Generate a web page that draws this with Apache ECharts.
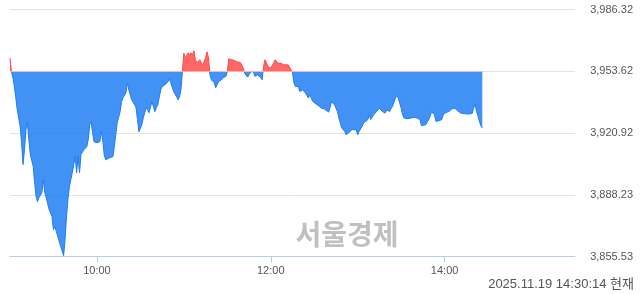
<!DOCTYPE html>
<html>
<head>
<meta charset="utf-8">
<script src="https://cdn.jsdelivr.net/npm/echarts@6/dist/echarts.min.js"></script>
<style>html,body{margin:0;padding:0;background:#fff}#c{width:640px;height:294px}</style>
</head>
<body>
<div id="c"></div>
<script>
// Session: 09:00 to 15:30; minutes since 09:00
const sessionMinutes = 390;
const prevClose = 3953.62;
const yMin = 3855.53, yMax = 3986.32;
const yTickLabels = ['3,855.53', '3,888.23', '3,920.92', '3,953.62', '3,986.32'];
const xTickLabels = {60: '10:00', 180: '12:00', 300: '14:00'};
const stampText = '2025.11.19 14:30:14 현재';
const watermark = '서울경제';

const minutes = [0,1,2,3,4,5,7,8,9,10,11,12,13,14,15,16,17,18,19,20,22,23,24,25,26,27,29,30,31,32,33,34,35,37,38,39,40,41,42,43,44,45,46,47,48,49,50,51,53,54,55,56,57,58,60,61,62,63,64,65,66,69,71,72,73,74,76,77,78,80,81,82,83,84,86,87,88,89,91,92,93,94,95,96,97,98,99,100,101,102,103,104,105,107,108,109,110,111,112,113,115,116,117,118,119,120,121,122,123,124,125,126,127,128,129,131,132,133,134,135,136,137,138,139,141,142,143,144,145,146,147,149,150,151,153,155,157,159,161,162,163,164,165,166,167,168,169,170,171,173,174,175,176,177,178,179,180,181,182,183,185,186,187,188,189,190,192,193,194,195,196,197,198,199,200,201,202,203,204,206,207,208,209,210,212,213,215,217,218,220,222,224,225,226,227,228,229,231,232,233,234,235,236,237,239,240,241,242,243,244,245,247,248,249,250,251,252,253,254,255,256,257,259,260,261,262,263,264,266,267,268,269,270,271,272,274,277,279,281,283,284,285,287,288,289,290,291,292,293,294,296,297,298,299,300,301,302,303,304,305,306,307,308,309,310,311,312,314,317,319,320,321,322,323,324,325,326];
const prices = [3960.6,3953.5,3950.2,3945.6,3939.6,3933.2,3924.4,3915.8,3904.2,3912.1,3922.7,3926.4,3917.4,3909.5,3909.5,3903.3,3894.7,3887.3,3884.6,3886.7,3889.4,3896.2,3889.4,3886.7,3885.7,3880.4,3876.7,3869.8,3871.4,3868.7,3866.1,3865.6,3860.8,3856.0,3864.5,3876.7,3885.7,3892.5,3896.2,3899.9,3904.2,3908.4,3899.9,3908.4,3899.9,3909.5,3910.5,3912.1,3913.7,3917.4,3925.3,3926.9,3921.1,3916.3,3915.8,3916.3,3916.3,3921.6,3917.4,3909.5,3906.8,3907.9,3908.4,3913.7,3920.0,3926.4,3932.2,3937.5,3939.6,3942.2,3947.5,3943.8,3941.2,3938.5,3935.9,3934.3,3928.0,3921.6,3925.3,3929.0,3931.7,3934.3,3933.2,3931.7,3934.8,3937.5,3936.9,3932.2,3934.3,3935.9,3939.6,3943.8,3945.4,3946.5,3947.5,3948.0,3949.6,3947.5,3946.5,3942.8,3940.1,3938.5,3940.1,3943.8,3953.3,3963.2,3960.7,3961.4,3963.4,3962.3,3963.4,3962.3,3964.4,3959.7,3958.1,3959.7,3958.1,3957.0,3958.8,3960.7,3963.9,3960.7,3951.8,3949.1,3947.5,3944.9,3946.5,3948.2,3947.5,3949.1,3950.2,3950.9,3953.5,3960.2,3959.7,3959.3,3958.5,3958.3,3955.3,3952.6,3951.8,3950.5,3951.8,3953.2,3953.5,3953.5,3950.9,3950.2,3951.8,3950.2,3949.1,3956.0,3959.7,3958.1,3956.1,3956.1,3955.3,3955.3,3957.9,3959.7,3957.9,3958.8,3957.9,3957.9,3957.0,3957.0,3957.0,3956.1,3954.4,3953.0,3947.5,3945.6,3944.9,3945.6,3942.9,3942.2,3943.8,3942.9,3942.1,3939.4,3941.2,3939.4,3937.6,3936.8,3935.9,3935.0,3934.1,3933.6,3933.2,3932.0,3937.5,3935.9,3935.0,3932.3,3928.9,3926.2,3923.6,3921.8,3920.0,3920.9,3921.2,3921.8,3922.7,3923.6,3922.7,3920.0,3921.8,3922.7,3924.4,3926.2,3927.1,3928.0,3930.6,3928.0,3928.9,3930.6,3931.5,3932.3,3933.2,3934.1,3934.5,3932.3,3931.5,3933.2,3934.1,3932.3,3933.8,3935.0,3939.4,3940.8,3939.4,3936.8,3934.1,3930.6,3928.9,3928.5,3928.9,3929.2,3928.9,3928.0,3924.8,3925.3,3925.3,3925.7,3928.0,3929.7,3932.3,3933.2,3930.6,3927.1,3927.4,3927.4,3928.0,3930.6,3931.5,3931.8,3931.5,3932.3,3933.2,3933.7,3934.5,3934.0,3933.6,3932.7,3932.3,3931.5,3931.0,3931.1,3931.0,3931.3,3934.0,3936.3,3932.3,3930.1,3927.1,3924.8,3923.6];

// category axis: every minute of the session
const cats = [];
for (let m = 0; m <= sessionMinutes; m++) {
  const h = 9 + Math.floor(m / 60), mm = m % 60;
  cats.push(String(h).padStart(2, '0') + ':' + String(mm).padStart(2, '0'));
}
const seriesData = minutes.map((m, i) => [m, prices[i]]);
const yInterval = (yMax - yMin) / 4;

const chart = echarts.init(document.getElementById('c'), null, {renderer: 'canvas'});
chart.setOption({
  animation: false,
  backgroundColor: '#fff',
  grid: {left: 10, right: 65, top: 9.5, bottom: 37.5},
  xAxis: {
    type: 'category',
    data: cats,
    boundaryGap: false,
    axisLine: {lineStyle: {color: '#bccbe6', width: 1}},
    axisTick: {show: true, length: 6, lineStyle: {color: '#bccbe6'}, interval: (i) => xTickLabels[i] !== undefined},
    axisLabel: {
      interval: (i) => xTickLabels[i] !== undefined,
      formatter: (v, i) => xTickLabels[i] || '',
      color: '#555', fontSize: 11, fontFamily: '"Liberation Sans", Arial, sans-serif', margin: 9
    },
    splitLine: {show: false}
  },
  yAxis: {
    type: 'value',
    position: 'right',
    min: yMin, max: yMax, interval: yInterval,
    axisLine: {show: false},
    axisTick: {show: false},
    splitLine: {lineStyle: {color: '#e4e4e4', width: 1}},
    axisLabel: {
      formatter: (v) => yTickLabels[Math.round((v - yMin) / yInterval)] || '',
      color: '#555', fontSize: 11, fontFamily: '"Liberation Sans", Arial, sans-serif',
      align: 'right', margin: 58
    }
  },
  visualMap: {
    show: false, type: 'piecewise', dimension: 1, seriesIndex: 0,
    pieces: [
      {min: yMin - 200, max: prevClose, color: '#1b7cf3'},
      {min: prevClose, max: yMax + 200, color: '#ff4747'}
    ]
  },
  graphic: [
    {type: 'text', z: 0, silent: true, style: {text: watermark, x: 347, y: 234, align: 'center', verticalAlign: 'middle', font: 'bold 28px "Noto Sans CJK KR"', fill: '#c0c0c0'}},
    {type: 'text', silent: true, style: {text: stampText, x: 634, y: 284, align: 'right', verticalAlign: 'middle', font: '13px "Liberation Sans", "Noto Sans CJK KR", sans-serif', fill: '#555'}}
  ],
  series: [{
    type: 'line',
    data: seriesData,
    showSymbol: false,
    symbol: 'none',
    lineStyle: {width: 1},
    areaStyle: {origin: prevClose, opacity: 0.83},
    markLine: {
      silent: true, symbol: 'none', label: {show: false},
      lineStyle: {color: '#ffb0b0', width: 1, type: 'solid'},
      data: [[{coord: [minutes[0], prevClose]}, {coord: [minutes[minutes.length - 1], prevClose]}]]
    }
  }]
});
</script>
</body>
</html>
